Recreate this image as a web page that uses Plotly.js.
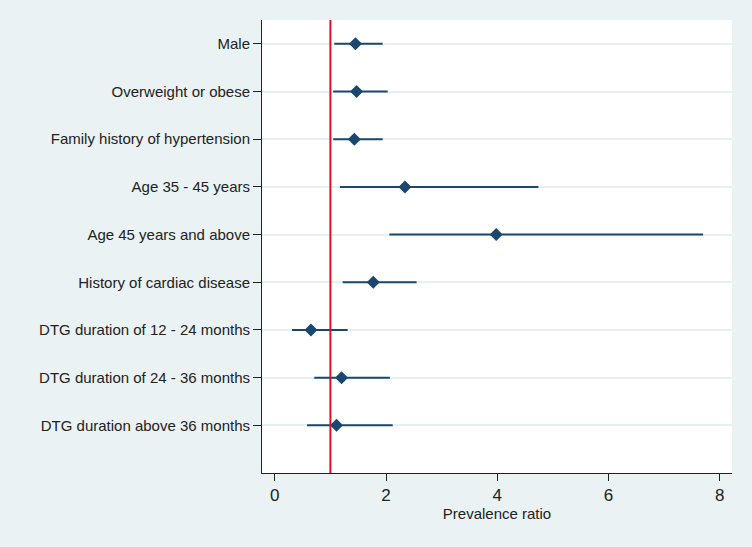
<!DOCTYPE html>
<html>
<head>
<meta charset="utf-8">
<script src="https://cdn.plot.ly/plotly-3.0.1.min.js"></script>
<style>html,body{margin:0;padding:0;background:#EAF2F3;}</style>
</head>
<body>
<div id="chart" style="width:752px;height:547px;"></div>
<script>
const categories = [
  "Male",
  "Overweight or obese",
  "Family history of hypertension",
  "Age 35 - 45 years",
  "Age 45 years and above",
  "History of cardiac disease",
  "DTG duration of 12 - 24 months",
  "DTG duration of 24 - 36 months",
  "DTG duration above 36 months"
];
const ratio = [1.45, 1.47, 1.43, 2.34, 3.98, 1.77, 0.65, 1.20, 1.11];
const lower = [1.07, 1.05, 1.05, 1.17, 2.06, 1.22, 0.31, 0.71, 0.58];
const upper = [1.94, 2.03, 1.94, 4.74, 7.70, 2.55, 1.31, 2.07, 2.12];
const referenceValue = 1;
const xTicks = [0, 2, 4, 6, 8];

const pos = categories.map((c, i) => i + 1);
const navy = "#1a476f";

const traces = [];
categories.forEach((c, i) => {
  traces.push({
    type: "scatter", mode: "lines",
    x: [lower[i], upper[i]], y: [pos[i], pos[i]],
    line: {color: navy, width: 2},
    hoverinfo: "skip", showlegend: false
  });
});
traces.push({
  type: "scatter", mode: "markers",
  x: ratio, y: pos, text: categories,
  marker: {symbol: "diamond", size: 10, color: navy},
  showlegend: false
});

const layout = {
  width: 752, height: 547,
  paper_bgcolor: "#EAF2F3",
  plot_bgcolor: "#FFFFFF",
  margin: {l: 262, r: 20, t: 20, b: 74},
  font: {family: "Liberation Sans, Arial, sans-serif", size: 15, color: "#222222"},
  xaxis: {
    range: [-0.23, 8.22],
    tickvals: xTicks, ticktext: xTicks.map(String),
    ticks: "outside", ticklen: 7, tickwidth: 1, tickcolor: "#222",
    showgrid: false, zeroline: false,
    showline: true, linecolor: "#222", linewidth: 1,
    tickfont: {size: 17},
    title: {text: "Prevalence ratio", font: {size: 15}, standoff: 2}
  },
  yaxis: {
    range: [10, 0.5],
    tickvals: pos, ticktext: categories,
    ticks: "outside", ticklen: 8, tickwidth: 1, tickcolor: "#222",
    showgrid: true, gridcolor: "#E6EFF1", gridwidth: 2,
    zeroline: false, showline: true, linecolor: "#222", linewidth: 1,
    tickfont: {size: 15}
  },
  shapes: [{
    type: "line", xref: "x", yref: "paper",
    x0: referenceValue, x1: referenceValue, y0: 0, y1: 1,
    line: {color: "#D7122F", width: 2}
  }]
};

Plotly.newPlot("chart", traces, layout, {displayModeBar: false, staticPlot: true});
</script>
</body>
</html>
